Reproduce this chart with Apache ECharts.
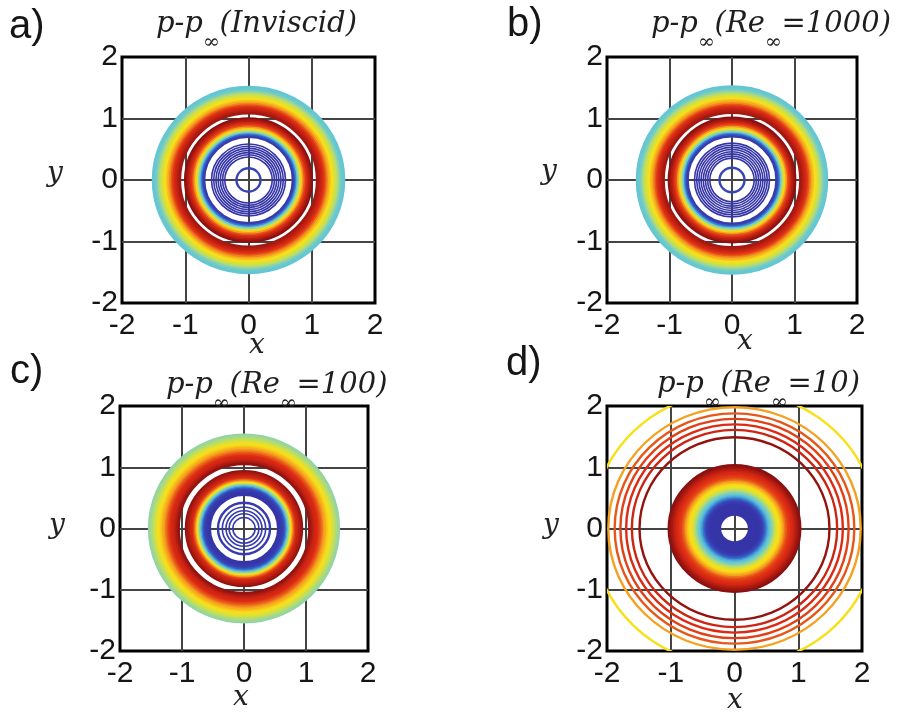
<!DOCTYPE html>
<html>
<head>
<meta charset="utf-8">
<script src="https://cdn.jsdelivr.net/npm/echarts@6/dist/echarts.min.js"></script>
<style>
  html, body { margin: 0; padding: 0; background: #fff; }
  #main { width: 898px; height: 713px; }
</style>
</head>
<body>
<div id="main"></div>
<script>
// contour lines of each panel: radius (in x/y units) and level on the jet scale (0 = blue, 1 = dark red)
var radiiA = [1.51, 1.485, 1.46, 1.435, 1.41, 1.385, 1.36, 1.335, 1.31, 1.285, 1.26, 1.235, 1.21, 1.185, 1.16, 1.135, 1.11, 1.085,
  1.00, 0.975, 0.95, 0.925, 0.90, 0.875, 0.85, 0.825, 0.80, 0.78, 0.76, 0.74, 0.72, 0.70,
  0.585, 0.55, 0.515, 0.48, 0.445, 0.41, 0.375,
  0.19];
var levelsA = [0.40, 0.41, 0.43, 0.48, 0.54, 0.59, 0.63, 0.67, 0.70, 0.74, 0.78, 0.82, 0.86, 0.89, 0.91, 0.93, 0.95, 0.97,
  1.00, 0.98, 0.95, 0.92, 0.89, 0.86, 0.80, 0.72, 0.62, 0.50, 0.40, 0.28, 0.18, 0.12,
  0.10, 0.10, 0.10, 0.10, 0.10, 0.10, 0.10,
  0.14];

var radiiB = [1.52, 1.495, 1.47, 1.445, 1.42, 1.395, 1.37, 1.345, 1.32, 1.295, 1.27, 1.245, 1.22, 1.195, 1.17, 1.145, 1.12, 1.095,
  1.01, 0.985, 0.96, 0.935, 0.91, 0.885, 0.86, 0.835, 0.81, 0.79, 0.77, 0.75, 0.73, 0.71,
  0.60, 0.565, 0.53, 0.495, 0.46, 0.425, 0.39, 0.355,
  0.20];
var levelsB = [0.40, 0.41, 0.43, 0.48, 0.54, 0.59, 0.63, 0.67, 0.70, 0.74, 0.78, 0.82, 0.86, 0.89, 0.91, 0.93, 0.95, 0.97,
  1.00, 0.98, 0.95, 0.92, 0.89, 0.86, 0.80, 0.72, 0.62, 0.50, 0.40, 0.28, 0.18, 0.12,
  0.10, 0.10, 0.10, 0.10, 0.10, 0.10, 0.10, 0.10,
  0.14];

var radiiC = [1.53, 1.505, 1.48, 1.455, 1.43, 1.405, 1.38, 1.355, 1.33, 1.305, 1.28, 1.255, 1.23, 1.205, 1.18, 1.155, 1.13, 1.105, 1.08, 1.055,
  0.935, 0.91, 0.885, 0.86, 0.835, 0.81, 0.79, 0.77, 0.75, 0.73, 0.71, 0.69, 0.67, 0.65, 0.63, 0.61, 0.59, 0.57, 0.55,
  0.42, 0.35, 0.29, 0.24, 0.18];
var levelsC = [0.50, 0.52, 0.55, 0.58, 0.62, 0.66, 0.69, 0.71, 0.74, 0.77, 0.80, 0.83, 0.86, 0.88, 0.90, 0.91, 0.92, 0.94, 0.96, 0.99,
  0.99, 0.97, 0.95, 0.93, 0.91, 0.88, 0.84, 0.78, 0.70, 0.60, 0.48, 0.38, 0.28, 0.19, 0.14, 0.12, 0.11, 0.10, 0.10,
  0.12, 0.12, 0.12, 0.12, 0.12];

var radiiD = [2.24, 1.98, 1.88, 1.79, 1.70, 1.61, 1.49,
  1.03, 1.005, 0.98, 0.955, 0.93, 0.905, 0.88, 0.855, 0.83, 0.805, 0.78, 0.755, 0.73, 0.705, 0.68, 0.655, 0.63, 0.605,
  0.58, 0.555, 0.53, 0.505, 0.48, 0.455, 0.43, 0.405, 0.38, 0.355, 0.33, 0.305, 0.28, 0.255, 0.23];
var levelsD = [0.70, 0.79, 0.86, 0.88, 0.90, 0.92, 0.99,
  1.00, 0.99, 0.97, 0.95, 0.93, 0.91, 0.90, 0.89, 0.88, 0.86, 0.83, 0.79, 0.75, 0.71, 0.69, 0.66, 0.60, 0.54,
  0.47, 0.42, 0.38, 0.32, 0.24, 0.17, 0.13, 0.11, 0.10, 0.10, 0.10, 0.10, 0.10, 0.10, 0.10];

var axisTicks = [-2, -1, 0, 1, 2];
var panelTags = ['a)', 'b)', 'c)', 'd)'];
var reynolds = [null, 1000, 100, 10];

var jet = ['#1f1f8c', '#3535a8', '#3a5ac8', '#3a90d8', '#62c6d6', '#92d4a6',
  '#c8e050', '#f8e018', '#f59a20', '#dd2a14', '#8a1010'];

var grids = [
  {left: 122, top: 57, width: 253, height: 246},
  {left: 607, top: 57, width: 250, height: 246},
  {left: 120, top: 406, width: 248, height: 245},
  {left: 607, top: 406, width: 255, height: 245}
];
var tagPos = [[9, 7], [507, 5], [10, 352], [506, 344]];
var headPos = [[156, 10], [651, 10], [166, 371], [657, 370]];
var xNamePos = [[257, 346], [745, 342], [241, 698], [735, 701]];
var yNamePos = [[55, 174], [549, 172], [57, 526], [551, 526]];

// each ring carries the distance to its nearest neighbour, so close rings merge into a band
function ringData(radii, levels) {
  return radii.map(function (r, i) {
    var g = 9;
    if (i > 0) g = Math.min(g, Math.abs(radii[i - 1] - r));
    if (i < radii.length - 1) g = Math.min(g, Math.abs(radii[i + 1] - r));
    return [r, levels[i], g];
  });
}

function renderRing(params, api) {
  var r = api.value(0);
  var c = api.coord([0, 0]);
  var s = api.size([r, r]);
  var gap = api.size([api.value(2), 0])[0];
  var w = gap < 1.9 ? gap + 1 : (gap < 4 ? 1.6 : 2.4);
  return {
    type: 'ellipse',
    shape: {cx: c[0], cy: c[1], rx: s[0], ry: s[1]},
    style: {fill: 'none', stroke: api.visual('color'), lineWidth: w}
  };
}

function heading(i) {
  if (reynolds[i] === null) return '{m|p-p}{s|∞}{m|(Inviscid)}';
  return '{m|p-p}{s|∞}{m|(Re}{s|∞}{m|=' + reynolds[i] + ')}';
}

var allRings = [ringData(radiiA, levelsA), ringData(radiiB, levelsB), ringData(radiiC, levelsC), ringData(radiiD, levelsD)];

var titles = [], xAxes = [], yAxes = [], series = [], graphics = [];
for (var i = 0; i < 4; i++) {
  titles.push({
    text: panelTags[i], left: tagPos[i][0], top: tagPos[i][1], padding: 0,
    textStyle: {fontFamily: 'Liberation Sans', fontSize: 40, fontWeight: 'normal', color: '#151515'}
  });
  titles.push({
    text: heading(i), left: headPos[i][0], top: headPos[i][1], padding: 0,
    textStyle: {
      fontWeight: 'normal',
      rich: {
        m: {fontFamily: 'DejaVu Serif', fontStyle: 'italic', fontWeight: 'normal', fontSize: 29, color: '#1e1e1e', lineHeight: 31, verticalAlign: 'top'},
        s: {fontFamily: 'DejaVu Serif', fontStyle: 'italic', fontWeight: 'normal', fontSize: 20, color: '#1e1e1e', lineHeight: 43, verticalAlign: 'bottom'}
      }
    }
  });
  var ax = {
    type: 'value', gridIndex: i,
    min: axisTicks[0], max: axisTicks[axisTicks.length - 1], interval: 1,
    axisLine: {show: false},
    axisTick: {show: false},
    splitLine: {show: true, showMinLine: false, showMaxLine: false, lineStyle: {color: '#444', width: 2}},
    axisLabel: {fontFamily: 'Liberation Sans', fontSize: 30, color: '#151515'}
  };
  xAxes.push(Object.assign({}, ax, {axisLabel: Object.assign({margin: 8}, ax.axisLabel)}));
  yAxes.push(Object.assign({}, ax, {axisLabel: Object.assign({margin: 4}, ax.axisLabel)}));
  series.push({
    type: 'custom',
    xAxisIndex: i, yAxisIndex: i,
    clip: true,
    renderItem: renderRing,
    data: allRings[i],
    silent: true
  });
  graphics.push({
    type: 'text', x: xNamePos[i][0], y: xNamePos[i][1],
    style: {text: 'x', font: 'italic 28px "DejaVu Serif"', fill: '#222', align: 'center', verticalAlign: 'middle'}
  });
  graphics.push({
    type: 'text', x: yNamePos[i][0], y: yNamePos[i][1],
    style: {text: 'y', font: 'italic 28px "DejaVu Serif"', fill: '#222', align: 'center', verticalAlign: 'middle'}
  });
}

var chart = echarts.init(document.getElementById('main'));
chart.setOption({
  backgroundColor: '#fff',
  animation: false,
  title: titles,
  grid: grids.map(function (g) {
    return Object.assign({show: true, borderColor: '#000', borderWidth: 3, backgroundColor: 'transparent'}, g);
  }),
  xAxis: xAxes,
  yAxis: yAxes,
  visualMap: {
    show: false, type: 'continuous', min: 0, max: 1, dimension: 1,
    seriesIndex: [0, 1, 2, 3],
    inRange: {color: jet}
  },
  graphic: graphics,
  series: series
});
</script>
</body>
</html>
